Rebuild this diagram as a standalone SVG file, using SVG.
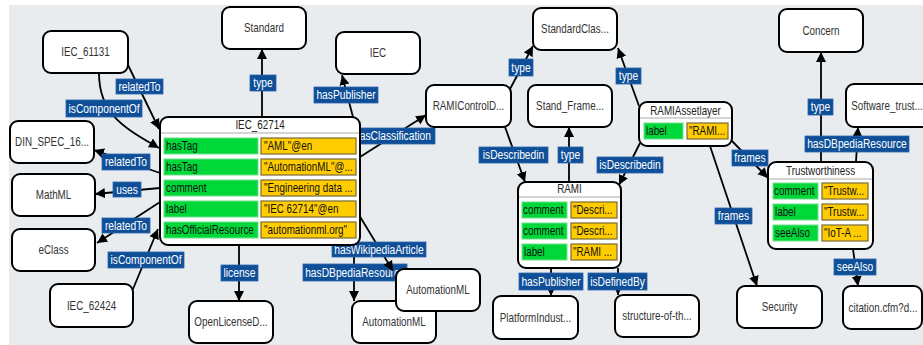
<svg xmlns="http://www.w3.org/2000/svg" width="923" height="345" viewBox="0 0 923 345">
<style>
text{font-family:"Liberation Sans",Arial,sans-serif;transform-box:fill-box;}
.n text,.h,.l text{transform-origin:50% 50%;transform:scaleX(0.82)}
.c{transform-origin:0% 50%;transform:scaleX(0.82)}
.n rect{fill:#fff;stroke:#000;stroke-width:2}
.n text{font-size:12px;fill:#333;text-anchor:middle}
.o{fill:#fff;stroke:#000;stroke-width:2}
.s{stroke:#aaa;stroke-width:1}
.h{font-size:12px;fill:#222;text-anchor:middle}
.g{fill:#00d83a;stroke:#6fe08a;stroke-width:1}
.y{fill:#ffcc00;stroke:#7a6a35;stroke-width:1.2}
.c{font-size:12px;fill:#111}
.e{fill:none;stroke:#000;stroke-width:1.8;marker-end:url(#a)}
.l rect{fill:#0f4f98;stroke:#2a64ad;stroke-width:0.8}
.l text{font-size:12.5px;fill:#fff;text-anchor:middle}
</style>
<defs>
<marker id="a" viewBox="0 0 10 10" refX="10" refY="5" markerWidth="10" markerHeight="11" markerUnits="userSpaceOnUse" orient="auto">
<path d="M0,0 L10,5 L0,10 z" fill="#000"/>
</marker>
</defs>
<rect width="923" height="345" fill="#fff"/>
<rect x="9" y="5" width="914" height="340" fill="#e9ecef"/>

<g id="connectors">
<g><path class="e" d="M262,117 L262,49"/><g class="l"><rect x="250" y="75" width="26" height="16"/><text x="263" y="87.5">type</text></g></g>
<g><path class="e" d="M128,65 L159,129"/><g class="l"><rect x="116" y="79" width="47" height="15"/><text x="139.5" y="91">relatedTo</text></g></g>
<g><path class="e" d="M99,73 C99,115 125,128 159,148"/><g class="l"><rect x="66" y="100" width="76" height="17"/><text x="104" y="113">isComponentOf</text></g></g>
<g><path class="e" d="M160,173 L94,150"/><g class="l"><rect x="102" y="154" width="48" height="16"/><text x="126" y="166.5">relatedTo</text></g></g>
<g><path class="e" d="M160,188 L95,194"/><g class="l"><rect x="113" y="182" width="28" height="15"/><text x="127" y="194">uses</text></g></g>
<g><path class="e" d="M160,202 L97,243"/><g class="l"><rect x="102" y="218" width="48" height="15"/><text x="126" y="230">relatedTo</text></g></g>
<g><path class="e" d="M133,289 L158,229"/><g class="l"><rect x="108" y="252" width="76" height="16"/><text x="146" y="264.5">isComponentOf</text></g></g>
<g><path class="e" d="M239,245 L239,301"/><g class="l"><rect x="221" y="265" width="37" height="16"/><text x="239.5" y="277.5">license</text></g></g>
<g><path class="e" d="M353,117 L342,75"/><g class="l"><rect x="314" y="87" width="64" height="16"/><text x="346" y="99.5">hasPublisher</text></g></g>
<g><path class="e" d="M360,157 L426,115"/><g class="l"><rect x="348" y="128" width="87" height="16"/><text x="392.5" y="140.5">hasClassification</text></g></g>
<g><path class="e" d="M354,245 L354,301"/><g class="l"><rect x="303" y="264" width="104" height="17"/><text x="355" y="277">hasDBpediaResource</text></g></g>
<g><path class="e" d="M356,210 L393,271"/><g class="l"><rect x="332" y="242" width="94" height="15"/><text x="379" y="254">hasWikipediaArticle</text></g></g>
<g><path class="e" d="M510,89 L533,46"/><g class="l"><rect x="509" y="59" width="24" height="17"/><text x="521" y="72">type</text></g></g>
<g><path class="e" d="M505,127 L525,182"/><g class="l"><rect x="479" y="147" width="69" height="16"/><text x="513.5" y="159.5">isDescribedin</text></g></g>
<g><path class="e" d="M569,182 L569,127"/><g class="l"><rect x="558" y="147" width="25" height="16"/><text x="570.5" y="159.5">type</text></g></g>
<g><path class="e" d="M640,143 L619,185"/><g class="l"><rect x="597" y="157" width="66" height="16"/><text x="630" y="169.5">isDescribedin</text></g></g>
<g><path class="e" d="M639,106 L618,48"/><g class="l"><rect x="616" y="68" width="25" height="16"/><text x="628.5" y="80.5">type</text></g></g>
<g><path class="e" d="M731,140 L768,178"/><g class="l"><rect x="732" y="150" width="36" height="16"/><text x="750" y="162.5">frames</text></g></g>
<g><path class="e" d="M710,146 L757,286"/><g class="l"><rect x="715" y="208" width="37" height="16"/><text x="733.5" y="220.5">frames</text></g></g>
<g><path class="e" d="M821,162 L821,52"/><g class="l"><rect x="808" y="99" width="25" height="16"/><text x="820.5" y="111.5">type</text></g></g>
<g><path class="e" d="M856,162 L858,127"/><g class="l"><rect x="805" y="136" width="104" height="16"/><text x="857" y="148.5">hasDBpediaResource</text></g></g>
<g><path class="e" d="M853,249 L858,286"/><g class="l"><rect x="834" y="259" width="42" height="16"/><text x="855" y="271.5">seeAlso</text></g></g>
<g><path class="e" d="M551,268 L551,296"/><g class="l"><rect x="519" y="273" width="64" height="17"/><text x="551" y="286">hasPublisher</text></g></g>
<g><path class="e" d="M618,268 L618,295"/><g class="l"><rect x="588" y="273" width="59" height="17"/><text x="617.5" y="286">isDefinedBy</text></g></g>
</g>

<g id="IEC_61131" class="n"><rect x="43" y="31" width="85" height="42" rx="8"/><text x="85.5" y="56">IEC_61131</text></g>
<g id="Standard" class="n"><rect x="222" y="7" width="84" height="42" rx="8"/><text x="264" y="32">Standard</text></g>
<g id="DIN_SPEC" class="n"><rect x="10" y="121" width="84" height="42" rx="8"/><text x="52" y="146">DIN_SPEC_16...</text></g>
<g id="MathML" class="n"><rect x="12" y="174" width="83" height="42" rx="8"/><text x="53.5" y="199">MathML</text></g>
<g id="eClass" class="n"><rect x="12" y="229" width="83" height="42" rx="8"/><text x="53.5" y="254">eClass</text></g>
<g id="IEC_62424" class="n"><rect x="50" y="284" width="83" height="43" rx="8"/><text x="91.5" y="310">IEC_62424</text></g>
<g id="OpenLicense" class="n"><rect x="189" y="301" width="84" height="42" rx="8"/><text x="231" y="326">OpenLicenseD...</text></g>
<g id="IEC" class="n"><rect x="336" y="32" width="84" height="42" rx="8"/><text x="378" y="57">IEC</text></g>
<g id="RAMIControlD" class="n"><rect x="426" y="85" width="85" height="42" rx="8"/><text x="468.5" y="110">RAMIControlD...</text></g>
<g id="StandardClas" class="n"><rect x="533" y="8" width="84" height="42" rx="8"/><text x="575" y="33">StandardClas...</text></g>
<g id="Stand_Frame" class="n"><rect x="528" y="85" width="84" height="42" rx="8"/><text x="570" y="110">Stand_Frame...</text></g>
<g id="AutomationML_2" class="n"><rect x="352" y="301" width="84" height="42" rx="8"/><text x="394" y="326">AutomationML</text></g>
<g id="AutomationML_1" class="n"><rect x="396" y="269" width="84" height="42" rx="8"/><text x="438" y="294">AutomationML</text></g>
<g id="PlatformIndust" class="n"><rect x="493" y="296" width="85" height="43" rx="8"/><text x="535.5" y="322">PlatformIndust...</text></g>
<g id="structure" class="n"><rect x="615" y="295" width="84" height="42" rx="8"/><text x="657" y="320">structure-of-th...</text></g>
<g id="Concern" class="n"><rect x="779" y="9" width="84" height="43" rx="8"/><text x="821" y="35">Concern</text></g>
<g id="Software_trust" class="n"><rect x="846" y="84" width="84" height="43" rx="8"/><text x="887" y="110">Software_trust...</text></g>
<g id="Security" class="n"><rect x="737" y="286" width="85" height="42" rx="8"/><text x="779.5" y="311">Security</text></g>
<g id="citation" class="n"><rect x="843" y="286" width="79" height="43" rx="8"/><text x="883" y="312">citation.cfm?d...</text></g>

<g id="IEC_62714">
<rect class="o" x="160" y="117" width="200" height="128" rx="8"/>
<text class="h" x="260" y="129">IEC_62714</text>
<line class="s" x1="161" y1="133" x2="359" y2="133"/>
<rect class="g" x="164" y="138" width="94" height="16"/><rect class="y" x="261" y="138" width="95" height="16"/>
<text class="c" x="166" y="150">hasTag</text><text class="c" x="264" y="150">"AML"@en</text>
<rect class="g" x="164" y="159" width="94" height="16"/><rect class="y" x="261" y="159" width="95" height="16"/>
<text class="c" x="166" y="171">hasTag</text><text class="c" x="264" y="171">"AutomationML"@...</text>
<rect class="g" x="164" y="180" width="94" height="16"/><rect class="y" x="261" y="180" width="95" height="16"/>
<text class="c" x="166" y="192">comment</text><text class="c" x="264" y="192">"Engineering data ...</text>
<rect class="g" x="164" y="201" width="94" height="16"/><rect class="y" x="261" y="201" width="95" height="16"/>
<text class="c" x="166" y="213">label</text><text class="c" x="264" y="213">"IEC 62714"@en</text>
<rect class="g" x="164" y="222" width="94" height="16"/><rect class="y" x="261" y="222" width="95" height="16"/>
<text class="c" x="166" y="234">hasOfficialResource</text><text class="c" x="264" y="234">"automationml.org"</text>
</g>

<g id="RAMI">
<rect class="o" x="518" y="182" width="103" height="86" rx="8"/>
<text class="h" x="569.5" y="193">RAMI</text>
<line class="s" x1="519" y1="197" x2="620" y2="197"/>
<rect class="g" x="522" y="202" width="45" height="16"/><rect class="y" x="571" y="202" width="46" height="16"/>
<text class="c" x="523" y="214">comment</text><text class="c" x="573" y="214">"Descri...</text>
<rect class="g" x="522" y="223" width="45" height="16"/><rect class="y" x="571" y="223" width="46" height="16"/>
<text class="c" x="523" y="235">comment</text><text class="c" x="573" y="235">"Descri...</text>
<rect class="g" x="522" y="244" width="45" height="16"/><rect class="y" x="571" y="244" width="46" height="16"/>
<text class="c" x="524" y="256">label</text><text class="c" x="573" y="256">"RAMI ...</text>
</g>

<g id="RAMIAssetlayer">
<rect class="o" x="639" y="102" width="93" height="44" rx="8"/>
<text class="h" x="685.5" y="115">RAMIAssetlayer</text>
<line class="s" x1="640" y1="118" x2="731" y2="118"/>
<rect class="g" x="644" y="123" width="39" height="16"/><rect class="y" x="687" y="123" width="41" height="16"/>
<text class="c" x="646" y="135">label</text><text class="c" x="689" y="135">"RAMI...</text>
</g>

<g id="Trustworthiness">
<rect class="o" x="768" y="162" width="105" height="87" rx="8"/>
<text class="h" x="820.5" y="175">Trustworthiness</text>
<line class="s" x1="769" y1="179" x2="872" y2="179"/>
<rect class="g" x="773" y="183" width="45" height="16"/><rect class="y" x="822" y="183" width="46" height="16"/>
<text class="c" x="774" y="195">comment</text><text class="c" x="824" y="195">"Trustw...</text>
<rect class="g" x="773" y="204" width="45" height="16"/><rect class="y" x="822" y="204" width="46" height="16"/>
<text class="c" x="775" y="216">label</text><text class="c" x="824" y="216">"Trustw...</text>
<rect class="g" x="773" y="225" width="45" height="16"/><rect class="y" x="822" y="225" width="46" height="16"/>
<text class="c" x="775" y="237">seeAlso</text><text class="c" x="824" y="237">"IoT-A ...</text>
</g>
</svg>
